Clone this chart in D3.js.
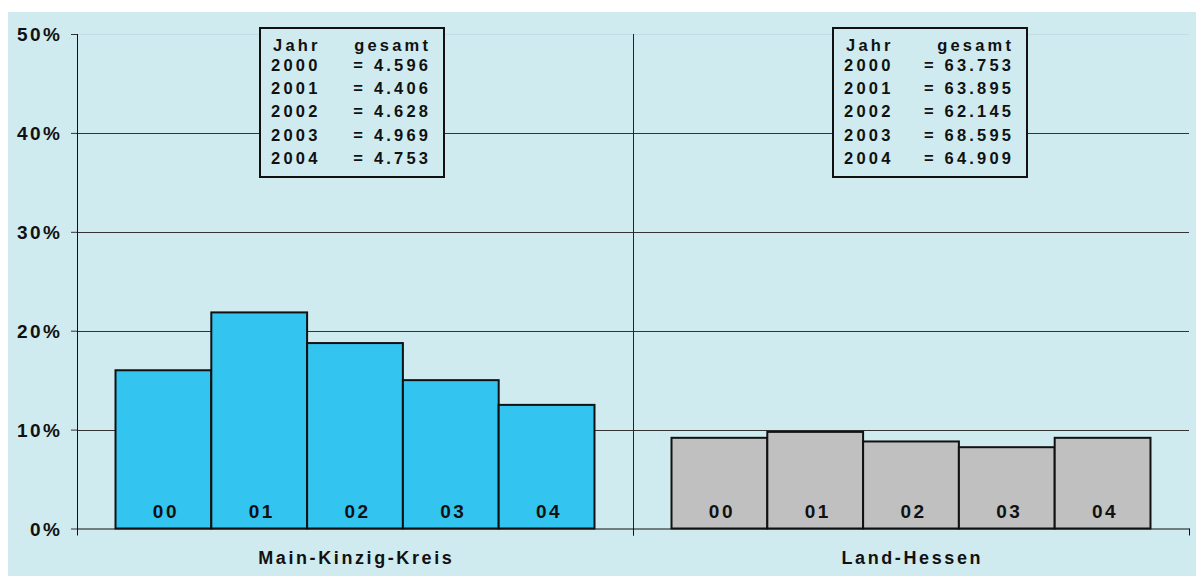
<!DOCTYPE html>
<html>
<head>
<meta charset="utf-8">
<script src="https://cdn.jsdelivr.net/npm/d3@7"></script>
<style>
  html, body { margin: 0; padding: 0; background: #ffffff; }
  svg { display: block; }
  text { font-family: "Liberation Sans", Arial, sans-serif; font-weight: bold; fill: #111; }
</style>
</head>
<body>
<svg id="chart" width="1196" height="576"></svg>
<script>
// Regions shown as the two groups
const categories = ["Main-Kinzig-Kreis", "Land-Hessen"];
// Year labels inside the bars
const yearLabels = ["00", "01", "02", "03", "04"];
// Share in percent per year
const mainKinzigValues = [16.0, 21.85, 18.75, 15.0, 12.5];
const landHessenValues = [9.17, 9.77, 8.8, 8.22, 9.17];
// Y-axis ticks
const yTicks = [0, 10, 20, 30, 40, 50];
// Totals listed in the info boxes
const boxYears = ["2000", "2001", "2002", "2003", "2004"];
const mainKinzigTotals = ["4.596", "4.406", "4.628", "4.969", "4.753"];
const landHessenTotals = ["63.753", "63.895", "62.145", "68.595", "64.909"];

const seriesValues = [mainKinzigValues, landHessenValues];
const seriesTotals = [mainKinzigTotals, landHessenTotals];
const fills = ["#33c4f0", "#c0c0c0"];

const svg = d3.select("#chart");

// panel background
svg.append("rect").attr("x", 8).attr("y", 12).attr("width", 1188).attr("height", 564)
  .attr("fill", "#cfebf0");

const plot = { left: 77, right: 1189, top: 34, bottom: 528.5 };

const y = d3.scaleLinear().domain([0, 50]).range([plot.bottom, plot.top]);
const x0 = d3.scaleBand().domain(categories).range([plot.left, plot.right]).padding(0);
const x1 = d3.scaleBand().domain(yearLabels).range([0, x0.bandwidth()])
  .paddingInner(0).paddingOuter(0.402);

// gridlines
svg.append("g").selectAll("line").data(yTicks.filter(t => t > 0)).join("line")
  .attr("x1", plot.left).attr("x2", plot.right)
  .attr("y1", d => Math.round(y(d)) + 0.5).attr("y2", d => Math.round(y(d)) + 0.5)
  .attr("stroke", d => d === 50 ? "#c2dde3" : "#333")
  .attr("stroke-width", 1);

// divider between the groups
svg.append("line")
  .attr("x1", Math.round(x0("Land-Hessen")) + 0.5).attr("x2", Math.round(x0("Land-Hessen")) + 0.5)
  .attr("y1", plot.top).attr("y2", plot.bottom + 7)
  .attr("stroke", "#222").attr("stroke-width", 1);

// bars
categories.forEach((cat, ci) => {
  const g = svg.append("g").attr("transform", `translate(${x0(cat)},0)`);
  const data = yearLabels.map((yl, i) => ({ yl, v: seriesValues[ci][i] }));
  g.selectAll("rect").data(data).join("rect")
    .attr("x", d => x1(d.yl))
    .attr("y", d => y(d.v))
    .attr("width", x1.bandwidth())
    .attr("height", d => y(0) - y(d.v))
    .attr("fill", fills[ci])
    .attr("stroke", "#111")
    .attr("stroke-width", 2);
  g.selectAll("text.bl").data(data).join("text")
    .attr("class", "bl")
    .attr("x", d => x1(d.yl) + x1.bandwidth() / 2 + 2.5)
    .attr("y", 517.5)
    .attr("text-anchor", "middle")
    .style("font-size", "19px")
    .style("letter-spacing", "2.5px")
    .text(d => d.yl);
});

// y axis
const yAxis = svg.append("g").attr("transform", `translate(${plot.left},0)`)
  .call(d3.axisLeft(y).tickValues(yTicks).tickFormat(d => d + "%").tickSize(6).tickPadding(8));
yAxis.select(".domain").remove();
yAxis.selectAll(".tick line").attr("stroke", "#333");
yAxis.selectAll(".tick text")
  .attr("x", -14.5)
  .attr("dy", "0.36em")
  .style("font-size", "19px")
  .style("letter-spacing", "2.5px")
  .style("font-family", "'Liberation Sans', Arial, sans-serif")
  .style("font-weight", "bold")
  .attr("fill", "#111");
svg.append("line")
  .attr("x1", plot.left + 0.5).attr("x2", plot.left + 0.5)
  .attr("y1", plot.top).attr("y2", plot.bottom + 6)
  .attr("stroke", "#111");

// x axis
const xAxis = svg.append("g").attr("transform", `translate(0,${plot.bottom})`)
  .call(d3.axisBottom(x0).tickSize(0).tickPadding(0));
xAxis.select(".domain").attr("stroke", "#111");
xAxis.selectAll(".tick text").remove();
svg.append("g").selectAll("line").data([plot.left, x0("Land-Hessen"), plot.right]).join("line")
  .attr("x1", d => Math.round(d) + 0.5).attr("x2", d => Math.round(d) + 0.5)
  .attr("y1", plot.bottom).attr("y2", plot.bottom + 7)
  .attr("stroke", "#111");

svg.append("g").selectAll("text").data(categories).join("text")
  .attr("x", d => x0(d) + x0.bandwidth() / 2 + 1.3)
  .attr("y", 563.5)
  .attr("text-anchor", "middle")
  .style("font-size", "18px")
  .style("letter-spacing", "2.6px")
  .text(d => d);

// info boxes with yearly totals
const boxes = [
  { x: 260, w: 184 },
  { x: 833, w: 194 }
];
const boxTop = 28, boxBottom = 177;
boxes.forEach((b, bi) => {
  const g = svg.append("g");
  g.append("rect").attr("x", b.x).attr("y", boxTop).attr("width", b.w).attr("height", boxBottom - boxTop)
    .attr("fill", "#cfebf0").attr("stroke", "#111").attr("stroke-width", 2);
  const fs = "16.5px", ls = "3.2px";
  const yearX = b.x + 11;
  const valRight = b.x + b.w - 16 + 3.2;
  g.append("text").attr("x", yearX + 2).attr("y", 50.7)
    .style("font-size", fs).style("letter-spacing", ls).text("Jahr");
  g.append("text").attr("x", valRight).attr("y", 50.7).attr("text-anchor", "end")
    .style("font-size", fs).style("letter-spacing", ls).text("gesamt");
  const rowY = [70.7, 94, 117.3, 140.7, 164];
  g.selectAll("text.yr").data(boxYears).join("text").attr("class", "yr")
    .attr("x", yearX).attr("y", (d, i) => rowY[i])
    .style("font-size", fs).style("letter-spacing", ls).text(d => d);
  g.selectAll("text.tv").data(seriesTotals[bi]).join("text").attr("class", "tv")
    .attr("x", valRight).attr("y", (d, i) => rowY[i]).attr("text-anchor", "end")
    .style("font-size", fs).style("letter-spacing", ls).text(d => "= " + d);
});
</script>
</body>
</html>
